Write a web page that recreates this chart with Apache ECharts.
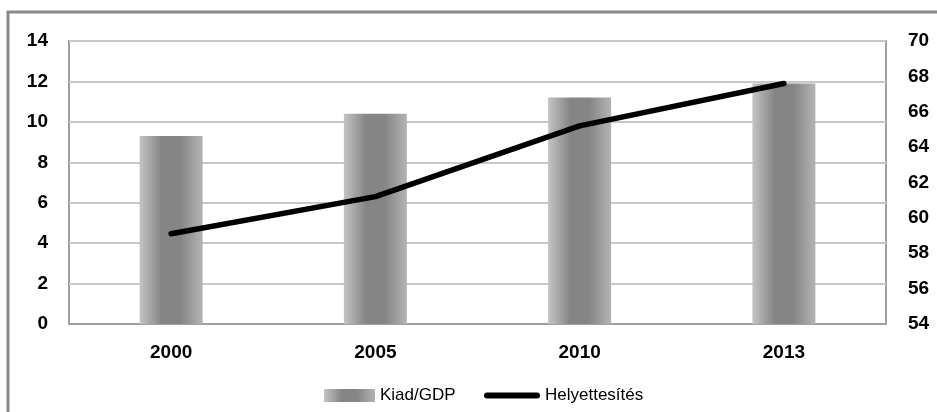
<!DOCTYPE html>
<html><head><meta charset="utf-8">
<script src="https://cdn.jsdelivr.net/npm/echarts@6/dist/echarts.min.js"></script>
<style>html,body{margin:0;padding:0;background:#fff}#c{width:937px;height:412px}</style>
</head><body><div id="c"></div>
<script>
const categories = ['2000','2005','2010','2013'];
const kiadGdp = [9.3, 10.4, 11.2, 11.9];
const helyettesites = [59.1, 61.2, 65.2, 67.6];
const seriesNames = ['Kiad/GDP','Helyettesítés'];

const chart = echarts.init(document.getElementById('c'));
const mkGrad = () => new echarts.graphic.LinearGradient(0,0,1,0,[
  {offset:0,color:'#c4c4c4'},{offset:0.35,color:'#858585'},{offset:0.65,color:'#858585'},{offset:1,color:'#b4b4b4'}]);
const font = '"Liberation Sans", Arial, sans-serif';
const lab = {fontFamily:font,fontWeight:'bold',fontSize:19,color:'#000'};
chart.setOption({
  animation:false,
  graphic:[{type:'rect',shape:{x:8,y:12,width:940,height:410},style:{fill:'none',stroke:'#8a8a8a',lineWidth:3}}],
  grid:{left:69,right:51,top:41,bottom:88,show:true,borderColor:'#a0a0a0',borderWidth:2,containLabel:false},
  legend:[
    {left:324,top:387,padding:0,itemWidth:51,itemHeight:13,itemGap:0,
      textStyle:{fontFamily:font,fontSize:17,color:'#000'},
      data:[{name:seriesNames[0],icon:'rect',itemStyle:{color:mkGrad()}}]},
    {left:484,top:387,padding:0,itemWidth:56,itemHeight:13,itemGap:0,
      textStyle:{fontFamily:font,fontSize:17,color:'#000'},
      data:[{name:seriesNames[1],icon:'path://M3,4 L53,4 A3,3 0 0 1 53,10 L3,10 A3,3 0 0 1 3,4 Z'}]}
  ],
  xAxis:{type:'category',data:categories,
    axisLine:{lineStyle:{color:'#a0a0a0',width:2}},axisTick:{show:false},
    axisLabel:Object.assign({margin:19},lab)},
  yAxis:[{type:'value',min:0,max:14,interval:2,
    axisLine:{show:false},axisTick:{show:false},
    splitLine:{lineStyle:{color:'#c8c8c8',width:2}},
    axisLabel:Object.assign({margin:21},lab)},
   {type:'value',min:54,max:70,interval:2,position:'right',
    axisLine:{show:false},axisTick:{show:false},splitLine:{show:false},
    axisLabel:Object.assign({margin:22},lab)}],
  series:[
    {name:seriesNames[0],type:'bar',data:kiadGdp,barWidth:63,itemStyle:{color:mkGrad()}},
    {name:seriesNames[1],type:'line',yAxisIndex:1,data:helyettesites,symbol:'none',
      lineStyle:{color:'#000',width:5.5,cap:'round',join:'round'},itemStyle:{color:'#000'}}
  ]
});
</script></body></html>
